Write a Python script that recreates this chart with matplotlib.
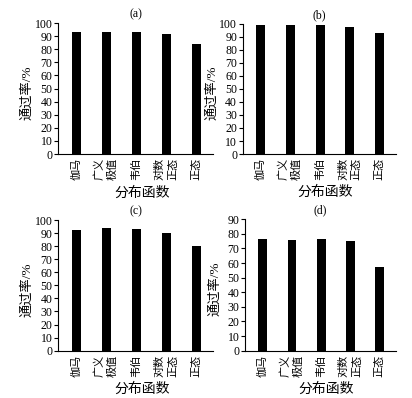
import matplotlib
matplotlib.use("Agg")
import matplotlib.pyplot as plt
import numpy as np

plt.rcParams['font.family'] = ['Liberation Serif', 'Noto Sans CJK SC']

categories = ['伽马', '广义\n极值', '韦伯', '对数\n正态', '正态']
rate_a = [93.0, 93.5, 93.0, 91.3, 84.0]
rate_b = [98.8, 99.4, 98.8, 97.7, 92.8]
rate_c = [92.3, 93.6, 93.4, 89.8, 80.1]
rate_d = [76.7, 75.6, 76.7, 75.1, 57.5]
panel_titles = ['(a)', '(b)', '(c)', '(d)']
y_tops = [100, 100, 100, 90]

fig = plt.figure(figsize=(4.12, 3.98), dpi=100)
boxes = [
    [0.141, 0.613, 0.376, 0.329],
    [0.589, 0.613, 0.372, 0.327],
    [0.141, 0.119, 0.376, 0.328],
    [0.595, 0.119, 0.366, 0.330],
]

x = np.arange(len(categories))
for box, vals, title, ytop in zip(boxes, [rate_a, rate_b, rate_c, rate_d], panel_titles, y_tops):
    ax = fig.add_axes(box)
    ax.bar(x, vals, width=0.3, color='black')
    ax.set_xlim(-0.6, 4.55)
    ax.set_ylim(0, ytop)
    ax.set_yticks(np.arange(0, ytop + 1, 10))
    ax.set_xticks(x)
    ax.set_xticklabels(categories, rotation=90, fontsize=8, linespacing=1.4)
    ax.tick_params(axis='x', length=0, pad=3)
    ax.tick_params(axis='y', length=3, width=0.8, labelsize=8.5, pad=1)
    ax.spines['top'].set_visible(False)
    ax.spines['right'].set_visible(False)
    ax.set_ylabel('通过率/%', fontsize=9.5)
    ax.yaxis.set_label_coords(-0.16, 0.47)
    ax.set_xlabel('分布函数', fontsize=10)
    ax.xaxis.set_label_coords(0.54, -0.245)
    ax.set_title(title, fontsize=8.5, pad=4)

plt.savefig('out.png', dpi=100)
